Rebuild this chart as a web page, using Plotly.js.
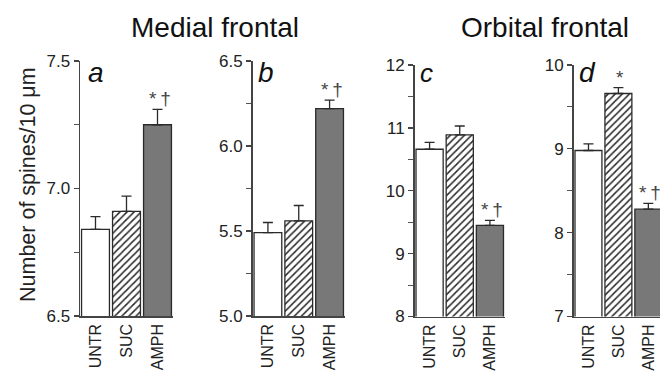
<!DOCTYPE html>
<html>
<head>
<meta charset="utf-8">
<script src="https://cdn.plot.ly/plotly-3.0.1.min.js"></script>
<style>html,body{margin:0;padding:0;background:#fff;}#chart{width:660px;height:371px;}</style>
</head>
<body>
<div id="chart"></div>
<script>
const categories = ['UNTR', 'SUC', 'AMPH'];
const panelA = [6.84, 6.91, 7.25];
const panelAErr = [0.05, 0.06, 0.06];
const panelB = [5.49, 5.56, 6.22];
const panelBErr = [0.06, 0.09, 0.05];
const panelC = [10.66, 10.89, 9.45];
const panelCErr = [0.11, 0.14, 0.08];
const panelD = [8.98, 9.66, 8.28];
const panelDErr = [0.08, 0.07, 0.07];
const panelSig = [['', '', '*\u2009\u2020'], ['', '', '*\u2009\u2020'], ['', '', '*\u2009\u2020'], ['', '*', '*\u2009\u2020']];
const panelLetters = ['a', 'b', 'c', 'd'];
const groupTitles = ['Medial frontal', 'Orbital frontal'];
const yTitle = 'Number of spines/10 \u03bcm';

const W = 660, H = 371;
const px = v => v / W;
const py = v => (H - v) / H;

const fills = ['#ffffff', '#ffffff', '#787878'];
const shapes = ['', '/', ''];

const panels = [
  {vals: panelA, errs: panelAErr, xd: [80, 173], yd: [316, 61], yr: [6.5, 7.5], dt: 0.5, mt: 0.25, fmt: '.1f', xr: [-0.5, 2.5], lx: 86, lsize: 28},
  {vals: panelB, errs: panelBErr, xd: [252.5, 345], yd: [316, 61], yr: [5.0, 6.5], dt: 0.5, mt: 0.25, fmt: '.1f', xr: [-0.5, 2.5], lx: 256, lsize: 28},
  {vals: panelC, errs: panelCErr, xd: [414.5, 505], yd: [316.5, 65], yr: [8, 12], dt: 1, mt: 0.5, fmt: 'd', xr: [-0.5, 2.5], lx: 418, lsize: 26},
  {vals: panelD, errs: panelDErr, xd: [573.5, 660], yd: [316.5, 65], yr: [7, 10], dt: 1, mt: 0.5, fmt: 'd', xr: [-0.5, 2.39], lx: 577, lsize: 28}
];

const data = [];
const layout = {
  width: W, height: H,
  margin: {l: 0, r: 0, t: 0, b: 0},
  paper_bgcolor: '#fff', plot_bgcolor: 'rgba(0,0,0,0)',
  showlegend: false,
  barmode: 'overlay',
  bargap: 0.1,
  font: {family: 'Liberation Sans, Arial, sans-serif', color: '#222'},
  annotations: []
};

panels.forEach((p, i) => {
  const n = i === 0 ? '' : String(i + 1);
  categories.forEach((c, k) => {
    const marker = {color: fills[k], line: {color: '#2a2a2a', width: 1.3}};
    if (shapes[k]) marker.pattern = {shape: shapes[k], fgcolor: '#2a2a2a', bgcolor: '#ffffff', fillmode: 'replace', size: 5, solidity: 0.3};
    data.push({
      type: 'bar',
      x: [c],
      y: [p.vals[k]],
      xaxis: 'x' + n, yaxis: 'y' + n,
      marker: marker,
      opacity: 1,
      error_y: {type: 'data', symmetric: false, array: [p.errs[k]], arrayminus: [0], color: '#2a2a2a', thickness: 1.3, width: 5},
      hoverinfo: 'skip'
    });
  });
  layout['xaxis' + n] = {
    domain: [px(p.xd[0]), px(p.xd[1])],
    anchor: 'y' + n,
    range: p.xr,
    type: 'category',
    categoryorder: 'array', categoryarray: categories,
    showline: true, linecolor: '#444', linewidth: 1.5,
    ticks: '', tickangle: -90,
    tickfont: {size: 16, color: '#222'},
    showgrid: false, zeroline: false, fixedrange: true
  };
  layout['yaxis' + n] = {
    domain: [py(p.yd[0]), py(p.yd[1])],
    anchor: 'x' + n,
    range: p.yr,
    dtick: p.dt, tick0: p.yr[0],
    tickformat: p.fmt,
    showline: true, linecolor: '#444', linewidth: 1.5,
    ticks: 'outside', ticklen: 5, tickwidth: 1.3, tickcolor: '#444',
    minor: {dtick: p.mt, tick0: p.yr[0], ticks: 'outside', ticklen: 5, tickwidth: 1.1, tickcolor: '#555', showgrid: false},
    tickfont: {size: 17, color: '#222'},
    showgrid: false, zeroline: false, fixedrange: true
  };
  layout.annotations.push({
    xref: 'paper', yref: 'paper', x: px(p.lx), y: py(90),
    xanchor: 'left', yanchor: 'bottom', showarrow: false,
    text: '<i>' + panelLetters[i] + '</i>',
    font: {size: p.lsize, color: '#111'}
  });
  panelSig[i].forEach((s, k) => {
    if (!s) return;
    layout.annotations.push({
      xref: 'x' + n, yref: 'y' + n, x: categories[k], y: p.vals[k] + p.errs[k],
      xanchor: 'center', yanchor: 'bottom', yshift: -2, xshift: 2, showarrow: false,
      text: s, font: {size: 19, color: '#444'}
    });
  });
});

layout.annotations.push(
  {xref: 'paper', yref: 'paper', x: px(215), y: py(27), xanchor: 'center', yanchor: 'middle', showarrow: false, text: groupTitles[0], font: {size: 28, color: '#111'}},
  {xref: 'paper', yref: 'paper', x: px(545), y: py(27), xanchor: 'center', yanchor: 'middle', showarrow: false, text: groupTitles[1], font: {size: 28, color: '#111'}},
  {xref: 'paper', yref: 'paper', x: px(28), y: py(185), xanchor: 'center', yanchor: 'middle', textangle: -90, showarrow: false, text: yTitle, font: {size: 21.5, color: '#222'}}
);

Plotly.newPlot('chart', data, layout, {staticPlot: true, displayModeBar: false});
</script>
</body>
</html>
